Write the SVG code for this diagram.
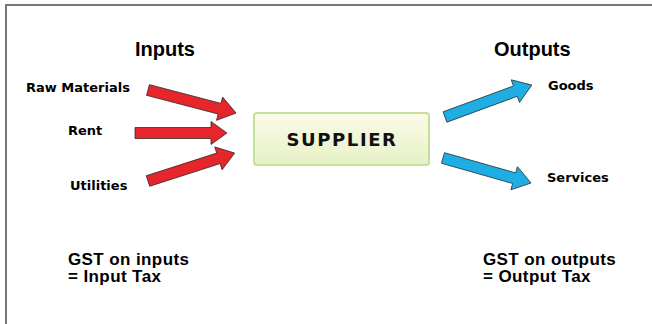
<svg xmlns="http://www.w3.org/2000/svg" width="652" height="324" viewBox="0 0 652 324">
<defs>
<linearGradient id="boxGrad" x1="0" y1="0" x2="0" y2="1">
<stop offset="0" stop-color="#fcfbe8"/>
<stop offset="1" stop-color="#e6f1c6"/>
</linearGradient>
<style>
.frame{fill:none;stroke:#777;stroke-width:2}
.head{font-family:"Liberation Sans",Arial,sans-serif;font-weight:bold;font-size:20px;fill:#000}
.lbl{font-family:"DejaVu Sans",sans-serif;font-weight:bold;font-size:13px;fill:#000}
.note{font-family:"Liberation Sans",Arial,sans-serif;font-weight:bold;font-size:17px;letter-spacing:0.4px;fill:#000}
.red{fill:#e7262b;stroke:#3a2a2a;stroke-width:0.8;stroke-linejoin:miter}
.blue{fill:#1eaee4;stroke:#2a3a44;stroke-width:0.8;stroke-linejoin:miter}
.box{fill:url(#boxGrad);stroke:#c4e09a;stroke-width:2}
.boxtxt{font-family:"DejaVu Sans",sans-serif;font-weight:bold;font-size:18px;letter-spacing:1.6px;fill:#111}
</style>
</defs>
<rect fill="#fff" x="0" y="0" width="652" height="324"/>
<path class="frame" d="M6,330 V5 H660"/>
<text class="head" x="135" y="56">Inputs</text>
<text class="head" x="494" y="56">Outputs</text>
<g id="raw-materials"><text class="lbl" x="26" y="92">Raw Materials</text></g>
<g id="rent"><text class="lbl" x="68" y="135">Rent</text></g>
<g id="utilities"><text class="lbl" x="70" y="190">Utilities</text></g>
<g id="supplier">
<rect class="box" x="254" y="113" width="175" height="52" rx="3"/>
<text class="boxtxt" x="342" y="146" text-anchor="middle">SUPPLIER</text>
</g>
<g id="goods"><text class="lbl" x="548" y="90">Goods</text></g>
<g id="services"><text class="lbl" x="547" y="182">Services</text></g>
<g id="connectors">
<polygon class="red" transform="translate(148,90) rotate(14.65)" points="0,-5.5 74,-5.5 74,-12 91,0 74,12 74,5.5 0,5.5"/>
<polygon class="red" transform="translate(135,133)" points="0,-5.5 76,-5.5 76,-11.5 92,0 76,11.5 76,5.5 0,5.5"/>
<polygon class="red" transform="translate(148,181) rotate(-17.84)" points="0,-5.5 74,-5.5 74,-12 91,0 74,12 74,5.5 0,5.5"/>
<polygon class="blue" transform="translate(445,117) rotate(-20.19)" points="0,-5.5 75,-5.5 75,-12 92.5,0 75,12 75,5.5 0,5.5"/>
<polygon class="blue" transform="translate(443,158) rotate(15.86)" points="0,-5.5 74,-5.5 74,-12 91.5,0 74,12 74,5.5 0,5.5"/>
</g>
<g id="gst-inputs"><text class="note" x="68" y="265">GST on inputs</text><text class="note" x="68" y="282">= Input Tax</text></g>
<g id="gst-outputs"><text class="note" x="483" y="265">GST on outputs</text><text class="note" x="483" y="282">= Output Tax</text></g>
</svg>
